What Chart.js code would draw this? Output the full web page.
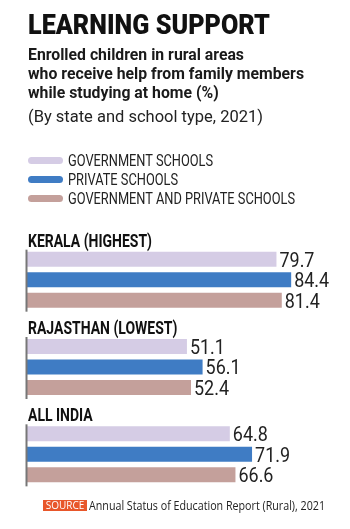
<!DOCTYPE html>
<html>
<head>
<meta charset="utf-8">
<script src="https://cdn.jsdelivr.net/npm/chart.js@4"></script>
<style>
  html, body { margin: 0; padding: 0; background: #fff; }
  #wrap { position: relative; width: 350px; height: 529px; overflow: hidden; }
  #chart { position: absolute; left: 0; top: 0; }
  .t { position: absolute; left: 28px; white-space: nowrap; color: #111; transform-origin: 0 0; }
  .t span { display: inline-block; }
  #title { top: 11px; font: 900 28px/28px Roboto, sans-serif; }
  #sub { top: 45px; font: bold 17px/18.8px Roboto, sans-serif; color: #1a1a1a; }
  #note { top: 109px; font: 16.5px/16.5px Roboto, sans-serif; color: #222; }
  #legend { position: absolute; left: 28px; top: 151px; }
  .row { display: flex; align-items: center; height: 19px; }
  .sw { width: 35px; height: 7px; border-radius: 4px; margin-right: 5px; flex: none; }
  .lt { font: 17px/17px Roboto, sans-serif; color: #222; white-space: nowrap; display: inline-block; transform-origin: 0 50%; }
  #source { position: absolute; left: 43px; top: 500px; height: 11px; }
  #source .tag { position: absolute; left: 0; top: 0; width: 44px; height: 11px; background: #e8562a; color: #fff;
                 font: 10px/11px 'Open Sans', sans-serif; text-align: center; }
  #source .txt { position: absolute; left: 46px; top: -1px; font: 12px/13px 'Open Sans', sans-serif; color: #222;
                 white-space: nowrap; transform-origin: 0 0; }
</style>
</head>
<body>
<div id="wrap">
  <canvas id="chart" width="350" height="529"></canvas>
  <div class="t" id="title">LEARNING SUPPORT</div>
  <div class="t" id="sub"><span>Enrolled children in rural areas</span><br><span>who receive help from family members</span><br><span>while studying at home (%)</span></div>
  <div class="t" id="note">(By state and school type, 2021)</div>
  <div id="legend"></div>
  <div id="source"><div class="tag">SOURCE</div><div class="txt">Annual Status of Education Report (Rural), 2021</div></div>
</div>
<script>
const groups = ['KERALA (HIGHEST)', 'RAJASTHAN (LOWEST)', 'ALL INDIA'];
const seriesNames = ['GOVERNMENT SCHOOLS', 'PRIVATE SCHOOLS', 'GOVERNMENT AND PRIVATE SCHOOLS'];
const govSchools = [79.7, 51.1, 64.8];
const privateSchools = [84.4, 56.1, 71.9];
const allSchools = [81.4, 52.4, 66.6];
const colors = ['#d5cce5', '#3f7cc4', '#c4a09b'];

// squeeze a text box horizontally so it takes the width it has in the print
function fitWidth(el, target, natural) {
    const w = natural || el.getBoundingClientRect().width;
    el.style.transform = 'scaleX(' + (target / w) + ')';
}

// group names above each group, drawn condensed
const groupLabels = {
    id: 'groupLabels',
    afterDatasetsDraw(chart) {
        const ctx = chart.ctx;
        const first = chart.getDatasetMeta(0).data;
        ctx.save();
        ctx.font = 'bold 18px Roboto, sans-serif';
        ctx.fillStyle = '#111';
        ctx.textBaseline = 'alphabetic';
        const sx = 124 / ctx.measureText(chart.data.labels[0]).width;
        first.forEach((bar, i) => {
            ctx.save();
            ctx.translate(chart.chartArea.left + 1, bar.y - bar.height / 2 - 5);
            ctx.scale(sx, 1);
            ctx.fillText(chart.data.labels[i], 0, 0);
            ctx.restore();
        });
        ctx.restore();
    }
};

// value labels at the end of each bar
const valueLabels = {
    id: 'valueLabels',
    afterDatasetsDraw(chart) {
        const ctx = chart.ctx;
        ctx.save();
        ctx.font = '20px Roboto, sans-serif';
        ctx.fillStyle = '#222';
        ctx.textBaseline = 'alphabetic';
        const sx = 35 / ctx.measureText('84.4').width;
        chart.data.datasets.forEach((ds, di) => {
            chart.getDatasetMeta(di).data.forEach((bar, i) => {
                ctx.save();
                ctx.translate(bar.x + 3, bar.y + bar.height / 2);
                ctx.scale(sx, 1);
                ctx.fillText(ds.data[i].toFixed(1), 0, 0);
                ctx.restore();
            });
        });
        ctx.restore();
    }
};

// short axis line beside each group of bars
const groupAxis = {
    id: 'groupAxis',
    afterDatasetsDraw(chart) {
        const ctx = chart.ctx;
        const first = chart.getDatasetMeta(0).data;
        const last = chart.getDatasetMeta(chart.data.datasets.length - 1).data;
        ctx.save();
        ctx.strokeStyle = '#777';
        ctx.lineWidth = 2;
        first.forEach((bar, i) => {
            const top = bar.y - bar.height / 2 - 2;
            const bottom = last[i].y + last[i].height / 2 + 4;
            ctx.beginPath();
            ctx.moveTo(chart.chartArea.left - 0.5, top);
            ctx.lineTo(chart.chartArea.left - 0.5, bottom);
            ctx.stroke();
        });
        ctx.restore();
    }
};

const chart = new Chart(document.getElementById('chart'), {
    type: 'bar',
    data: {
        labels: groups,
        datasets: [
            { label: seriesNames[0], data: govSchools, backgroundColor: colors[0] },
            { label: seriesNames[1], data: privateSchools, backgroundColor: colors[1] },
            { label: seriesNames[2], data: allSchools, backgroundColor: colors[2] }
        ]
    },
    options: {
        indexAxis: 'y',
        responsive: false,
        animation: false,
        layout: { padding: { left: 27, right: 10, top: 236, bottom: 31 } },
        datasets: { bar: { categoryPercentage: 0.705, barPercentage: 0.73 } },
        plugins: {
            legend: { display: false },
            tooltip: { enabled: false }
        },
        scales: {
            x: { display: false, min: 0, max: 100 },
            y: { display: false }
        }
    },
    plugins: [groupLabels, valueLabels, groupAxis]
});

// legend built from the chart's datasets
const legend = document.getElementById('legend');
const legendTexts = [];
chart.data.datasets.forEach(ds => {
    const row = document.createElement('div');
    row.className = 'row';
    row.innerHTML = '<div class="sw" style="background:' + ds.backgroundColor + '"></div><span class="lt">' + ds.label + '</span>';
    legend.appendChild(row);
    legendTexts.push(row.querySelector('.lt'));
});
const longest = Math.max(...legendTexts.map(el => el.getBoundingClientRect().width));
legendTexts.forEach(el => { el.style.transform = 'scaleX(' + (227 / longest) + ')'; });

fitWidth(document.getElementById('title'), 242);
const subLines = document.querySelectorAll('#sub span');
fitWidth(document.getElementById('sub'), 276, Math.max(...[...subLines].map(s => s.getBoundingClientRect().width)));
fitWidth(document.getElementById('note'), 235);
fitWidth(document.querySelector('#source .txt'), 236);
</script>
</body>
</html>
